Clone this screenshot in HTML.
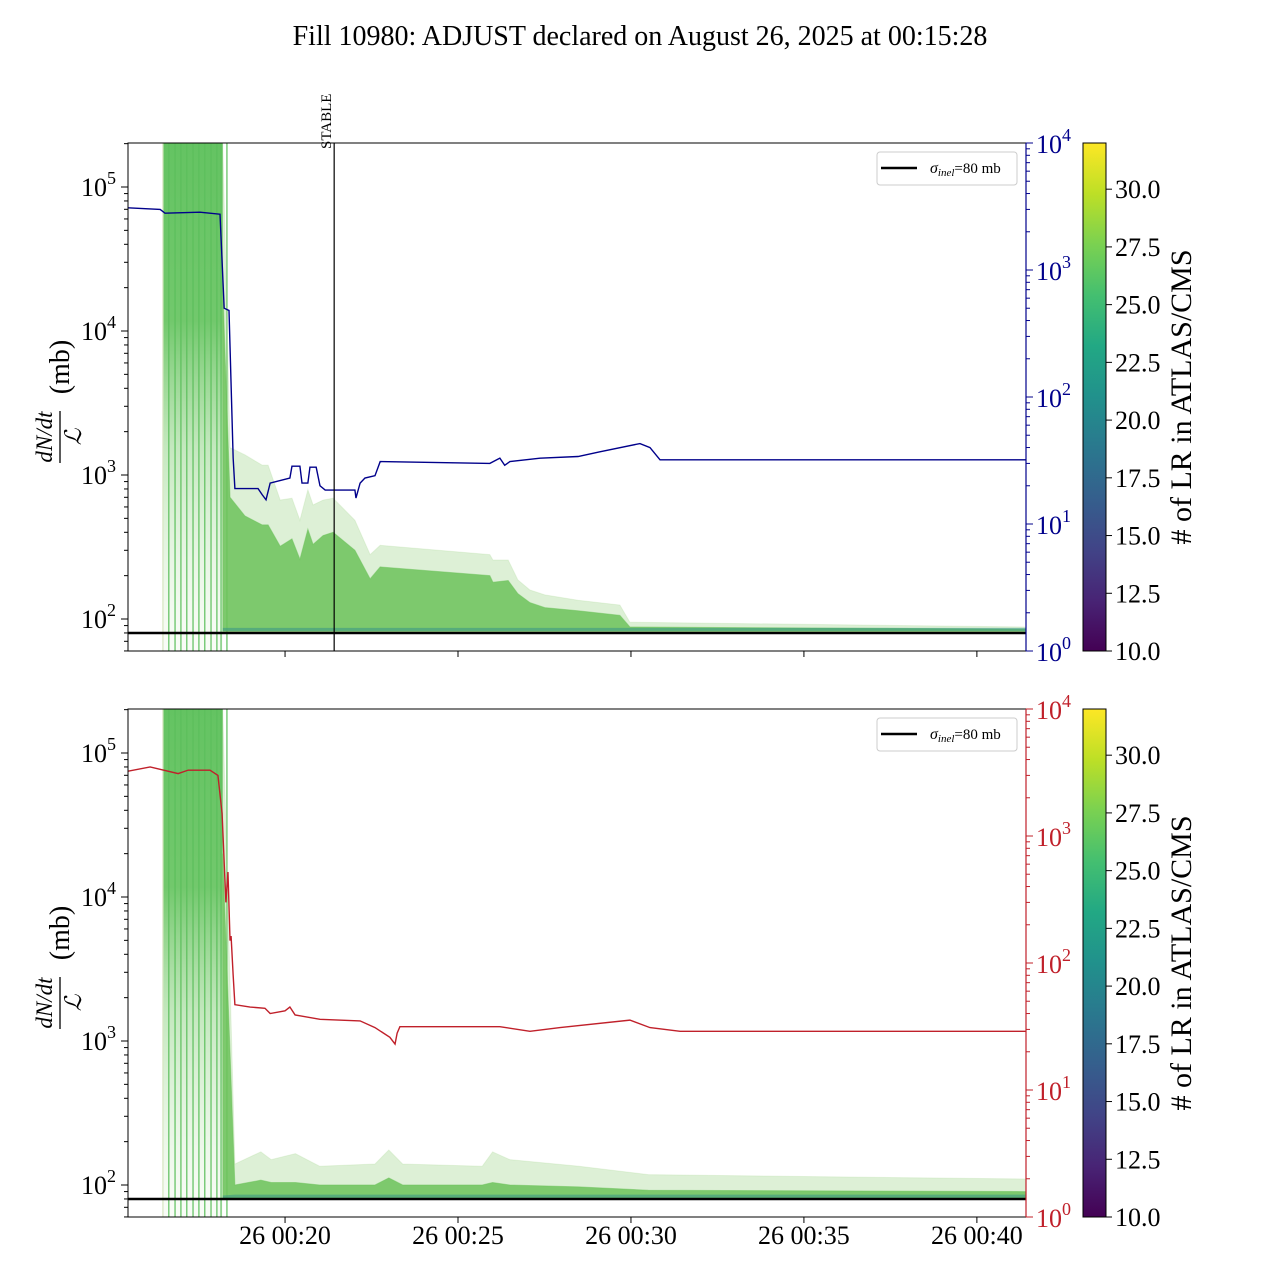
<!DOCTYPE html>
<html><head><meta charset="utf-8">
<style>
html,body{margin:0;padding:0;background:#fff;}
svg{display:block;font-family:"Liberation Serif","DejaVu Serif",serif;}
</style></head>
<body>
<svg id="chart" width="1280" height="1280" viewBox="0 0 1280 1280" xmlns="http://www.w3.org/2000/svg">
<defs>
<linearGradient id="viridis" x1="0" y1="1" x2="0" y2="0">
<stop offset="0" stop-color="#440154"/><stop offset="0.1" stop-color="#482475"/><stop offset="0.2" stop-color="#414487"/>
<stop offset="0.3" stop-color="#355f8d"/><stop offset="0.4" stop-color="#2a788e"/><stop offset="0.5" stop-color="#21918c"/>
<stop offset="0.6" stop-color="#22a884"/><stop offset="0.7" stop-color="#44bf70"/><stop offset="0.8" stop-color="#7ad151"/>
<stop offset="0.9" stop-color="#bddf26"/><stop offset="1" stop-color="#fde725"/>
</linearGradient>
<linearGradient id="spikeFade" x1="0" y1="0" x2="0" y2="1">
<stop offset="0" stop-color="#5cc05a" stop-opacity="0.95"/><stop offset="0.35" stop-color="#62c25c" stop-opacity="0.9"/>
<stop offset="0.6" stop-color="#7ccc70" stop-opacity="0.45"/><stop offset="1" stop-color="#c8e6b8" stop-opacity="0.1"/>
</linearGradient>
</defs>
<text x="640" y="45" text-anchor="middle" font-size="28">Fill 10980: ADJUST declared on August 26, 2025 at 00:15:28</text>
<g id="plots"></g>
</svg>
<script>
// ---- data (time in minutes after 00:00 on Aug 26) ----
const xTickLabels = ["26 00:20","26 00:25","26 00:30","26 00:35","26 00:40"];
const xTickMinutes = [20,25,30,35,40];
const stableTime = 21.42;
const sigmaInel = 80;
const spikeStart = 16.47, spikeEnd = 18.2;
const spikeLineTimes = [16.47,16.64,16.82,16.99,17.16,17.34,17.51,17.68,17.86,18.03,18.15,18.32];
const colorbarTicks = [10.0,12.5,15.0,17.5,20.0,22.5,25.0,27.5,30.0];
const leftTicks = [2,3,4,5];
const rightTicks = [0,1,2,3,4];

const blueTimes = [15.46,16.39,16.53,17.54,18.12,18.24,18.38,18.5,18.55,19.22,19.34,19.45,19.57,20.14,20.2,20.43,20.49,20.66,20.72,20.9,21.01,21.16,22.02,22.05,22.17,22.31,22.6,22.75,25.92,26.21,26.35,26.5,27.37,28.47,29.1,30.26,30.55,30.84,41.42];
const blueValues = [3090,3000,2800,2850,2750,500,480,33,19,19,17,15.5,21,23,28.5,28.5,21,21,28,28,20,18.5,18.5,16,21,23,24,31,30,33,29,31,33,34,37,43,40,32,32];

const redTimes = [15.46,16.1,16.91,17.2,17.83,18.06,18.18,18.29,18.35,18.41,18.44,18.5,18.55,18.99,19.42,19.57,20.0,20.14,20.29,21.01,22.17,22.6,23.03,23.18,23.24,23.32,26.21,27.08,27.95,29.97,30.55,31.42,41.42];
const redValues = [3240,3500,3100,3300,3300,3000,1500,300,520,150,163,80,47,45,44,40,42,45,39,36,35,31,26,23,28,31.5,31.5,29,31,35.5,31,29,29];

const topEnvTimes = [18.2,18.41,18.84,19.34,19.51,19.86,20.2,20.43,20.66,20.81,21.1,21.39,22.02,22.46,22.75,25.92,26.01,26.45,26.73,27.08,27.51,28.47,29.68,29.97,41.42];
const topEnvUpper = [200000,1550,1380,1170,1170,670,690,485,790,620,670,690,485,280,325,280,257,257,187,159,147,135,125,95,88];
const topEnvCore = [20000,700,520,450,450,320,360,260,420,330,380,400,300,190,230,200,180,185,150,130,120,114,106,88,85];
const topEnvLower = [82,82,82,82,82,82,82,82,82,82,82,82,82,82,82,82,82,82,82,82,82,82,82,82,82];

const botEnvTimes = [18.2,18.55,19.3,19.6,20.3,21.0,22.6,23.0,23.4,25.7,26.0,26.5,28.5,30.5,41.42];
const botEnvUpper = [200000,140,170,150,165,135,140,175,140,135,170,150,135,118,110];
const botEnvCore = [20000,100,108,104,104,100,100,112,100,100,104,100,97,92,90];
const botEnvLower = [80,81,81,81,81,81,81,81,81,81,81,81,81,81,81];

// ---- layout ----
const X0=128, X1=1026, CBX=1083, CBW=23;
const tMin=15.46, tMax=41.42;
function xs(t){return X0+(t-tMin)/(tMax-tMin)*(X1-X0);}
const NS='http://www.w3.org/2000/svg';
function el(tag,attrs,parent,text){const e=document.createElementNS(NS,tag);for(const k in attrs)e.setAttribute(k,attrs[k]);if(text!==undefined)e.textContent=text;parent.appendChild(e);return e;}
const plotRoot=document.getElementById('plots');

function makePlot(idx,Y0,Y1,lineT,lineV,lineColor,envT,envU,envC,envL){
  const g=el('g',{},plotRoot);
  
  
  const ly=v=>Y0+476-(Math.log10(v)-2)*144;
  const ry=v=>Y1-Math.log10(v)*(Y1-Y0)/4;
  const clipId='clip'+idx;
  const cp=el('clipPath',{id:clipId},g);el('rect',{x:X0,y:Y0,width:X1-X0,height:Y1-Y0},cp);
  const data=el('g',{'clip-path':'url(#'+clipId+')'},g);
  const sp=el('rect',{x:xs(spikeStart),y:Y0,width:xs(spikeEnd)-xs(spikeStart),height:(Y1-Y0)},data);
  sp.setAttribute('fill','url(#spikeFade)');
  
  
  spikeLineTimes.forEach((t,i)=>{
    const l=el('line',{x1:xs(t),x2:xs(t),y1:Y0,y2:Y1,stroke:i===0?'#d6e6c0':'#5cbf5c','stroke-width':1.2},data);
    
    
  });
  function band(up,low,fill,op,name){
    let d='M'+envT.map((t,i)=>xs(t)+','+ly(up[i])).join('L');
    for(let i=envT.length-1;i>=0;i--)d+='L'+xs(envT[i])+','+ly(low[i]);
    const p=el('path',{d:d+'Z',fill:fill,'fill-opacity':op,stroke:fill,'stroke-opacity':op*0.6,'stroke-width':1},data);
    
    
  }
  band(envU,envL,'#9fd38a',0.35,'lr-envelope');
  band(envC,envL,'#6cc25a',0.85,'lr-core');
  const bl=envT.map((t,i)=>xs(t)+','+(ly(envL[i])-2)).join(' ');
  const blp=el('polyline',{points:bl,fill:'none',stroke:'#2f8f8a','stroke-width':3,'stroke-opacity':0.5},data);
  
  
  const sl=el('line',{x1:X0,x2:X1,y1:ly(sigmaInel),y2:ly(sigmaInel),stroke:'#000','stroke-width':2.5},data);
  
  
  const pl=el('polyline',{points:lineT.map((t,i)=>xs(t)+','+ry(lineV[i])).join(' '),fill:'none',stroke:lineColor,'stroke-width':1.4},data);
  
  
  const fr=el('rect',{x:X0,y:Y0,width:X1-X0,height:Y1-Y0,fill:'none',stroke:'#000','stroke-width':1},g);
  
  
  el('line',{x1:X1,x2:X1,y1:Y0,y2:Y1,stroke:lineColor,'stroke-width':1.2},g);
  leftTicks.forEach(p=>{
    const y=ly(Math.pow(10,p));
    el('line',{x1:X0-7,x2:X0,y1:y,y2:y,stroke:'#000'},g);
    const tx=el('text',{x:X0-12,y:y+9,'text-anchor':'end','font-size':26},g,'10');
    el('tspan',{dy:-12,'font-size':18},tx,String(p));
    
    
  });
  for(let p=1;p<=5;p++)for(let m=2;m<=9;m++){const y=ly(m*Math.pow(10,p));if(y>Y0&&y<Y1)el('line',{x1:X0-4,x2:X0,y1:y,y2:y,stroke:'#000'},g);}
  rightTicks.forEach(p=>{
    const y=ry(Math.pow(10,p));
    el('line',{x1:X1,x2:X1+7,y1:y,y2:y,stroke:lineColor},g);
    const tx=el('text',{x:X1+10,y:y+10,'font-size':26,fill:lineColor},g,'10');
    el('tspan',{dy:-12,'font-size':18},tx,String(p));
    
    
  });
  for(let p=0;p<4;p++)for(let m=2;m<=9;m++){const y=ry(m*Math.pow(10,p));el('line',{x1:X1,x2:X1+4,y1:y,y2:y,stroke:lineColor},g);}
  xTickMinutes.forEach((t,i)=>{
    el('line',{x1:xs(t),x2:xs(t),y1:Y1,y2:Y1+6,stroke:'#000'},g);
    if(idx===1){const tx=el('text',{x:xs(t),y:Y1+27,'text-anchor':'middle','font-size':26},g,xTickLabels[i]);
      
      }
  });
  const cy=(Y0+Y1)/2;
  const yl=el('g',{transform:'translate(60,'+cy+') rotate(-90)'},g);
  
  
  el('text',{x:-40,y:-8,'text-anchor':'middle','font-size':23,'font-style':'italic'},yl,'dN/dt');
  el('line',{x1:-66,x2:-14,y1:0,y2:0,stroke:'#000','stroke-width':1.3},yl);
  el('text',{x:-40,y:21,'text-anchor':'middle','font-size':23,'font-style':'italic'},yl,'ℒ');
  el('text',{x:30,y:9,'text-anchor':'middle','font-size':28},yl,'(mb)');
  const lg=el('g',{},g);
  
  
  el('rect',{x:877,y:Y0+9,width:140,height:33,rx:3,fill:'#fff',stroke:'#ccc'},lg);
  el('line',{x1:881,x2:917,y1:Y0+25,y2:Y0+25,stroke:'#000','stroke-width':2.5},lg);
  const lt=el('text',{x:930,y:Y0+30,'font-size':15},lg);
  el('tspan',{'font-style':'italic','font-size':16},lt,'σ');
  el('tspan',{'font-style':'italic','font-size':11,dy:3},lt,'inel');
  el('tspan',{dy:-3},lt,'=80 mb');
  const cb=el('rect',{x:CBX,y:Y0,width:CBW,height:Y1-Y0,fill:'url(#viridis)',stroke:'#000'},g);
  
  
  const cby=v=>Y1-(v-10)/22*(Y1-Y0);
  colorbarTicks.forEach(v=>{
    const y=cby(v);
    el('line',{x1:CBX+CBW,x2:CBX+CBW+6,y1:y,y2:y,stroke:'#000'},g);
    const tx=el('text',{x:CBX+CBW+9,y:y+9,'font-size':26},g,v.toFixed(1));
    
    
  });
  const cl=el('text',{x:0,y:0,'font-size':30,'text-anchor':'middle',transform:'translate(1191,'+cy+') rotate(-90)'},g,'# of LR in ATLAS/CMS');
  
  
  return g;
}
const topPanel=makePlot(0,143,651,blueTimes,blueValues,'#00008b',topEnvTimes,topEnvUpper,topEnvCore,topEnvLower);
makePlot(1,709,1217,redTimes,redValues,'#c0202a',botEnvTimes,botEnvUpper,botEnvCore,botEnvLower);
const sx=xs(stableTime);
const stl=el('line',{x1:sx,x2:sx,y1:143,y2:651,stroke:'#000','stroke-width':1.2},topPanel);


const stt=el('text',{x:0,y:0,'font-size':15,transform:'translate('+(sx-3)+',149) rotate(-90)'},topPanel,'STABLE');


</script>
</body></html>
